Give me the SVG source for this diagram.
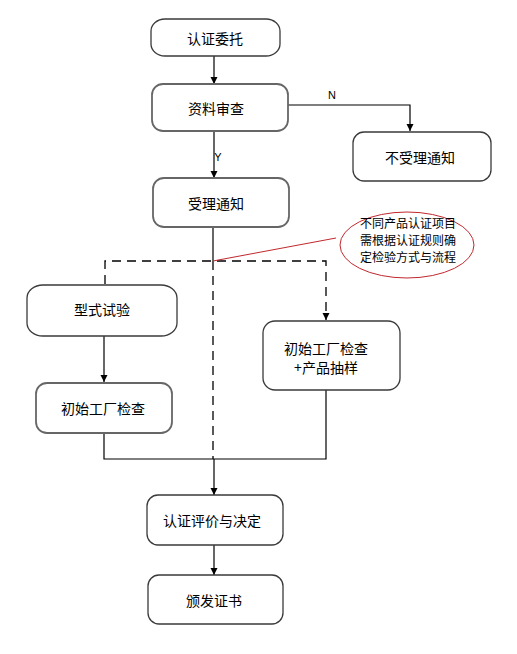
<svg xmlns="http://www.w3.org/2000/svg" width="517" height="654" viewBox="0 0 517 654">
<defs>
<style>
.box{fill:#fff;stroke:#3a3a3a;stroke-width:1.3}
.box2{fill:#fff;stroke:#666;stroke-width:1.8}
.t{font-family:"Noto Sans CJK SC","Liberation Sans",sans-serif;font-size:14px;fill:#000;text-anchor:middle;dominant-baseline:central}
.s{font-size:12px}
.ln{fill:none;stroke:#000;stroke-width:1.2}
.ds{fill:none;stroke:#000;stroke-width:1.3;stroke-dasharray:9,6}
</style>
<marker id="ah" viewBox="0 0 10 10" refX="10" refY="5" markerWidth="7" markerHeight="8" markerUnits="userSpaceOnUse" orient="auto">
<path d="M0,0 L10,5 L0,10 z" fill="#000"/>
</marker>
</defs>
<rect width="517" height="654" fill="#fff"/>
<g id="connectors">
<line class="ln" x1="214" y1="56" x2="214" y2="84" marker-end="url(#ah)"/>
<polyline class="ln" points="288,105 410,105 410,131" marker-end="url(#ah)"/>
<line class="ln" x1="214" y1="131" x2="214" y2="178" marker-end="url(#ah)"/>
<line class="ln" x1="213" y1="227" x2="213" y2="261"/>
<polyline class="ds" points="105,284 105,261 326,261 326,320" marker-end="url(#ah)"/>
<line class="ds" x1="213" y1="261" x2="213" y2="459"/>
<line class="ln" x1="104" y1="336" x2="104" y2="382" marker-end="url(#ah)"/>
<polyline class="ln" points="104,433 104,459 326,459 326,390"/>
<line class="ln" x1="214" y1="459" x2="214" y2="495" marker-end="url(#ah)"/>
<line class="ln" x1="214" y1="545" x2="214" y2="575" marker-end="url(#ah)"/>
<line x1="213" y1="261" x2="336" y2="238" stroke="#c0282e" stroke-width="1"/>
<text class="t" x="332" y="95" style="font-family:'Liberation Sans',sans-serif;font-size:11px">N</text>
<text class="t" x="218" y="157" style="font-family:'Liberation Sans',sans-serif;font-size:11px">Y</text>
</g>
<g id="n1"><rect class="box" x="151" y="19" width="129" height="37" rx="14" ry="12"/><text class="t" x="215" y="38">认证委托</text></g>
<g id="n2"><rect class="box2" x="152" y="84" width="136" height="47" rx="11"/><text class="t" x="216" y="108">资料审查</text></g>
<g id="n3"><rect class="box" x="353" y="132" width="138" height="49" rx="11"/><text class="t" x="420" y="157">不受理通知</text></g>
<g id="n4"><rect class="box2" x="153" y="178" width="136" height="49" rx="11"/><text class="t" x="216" y="203">受理通知</text></g>
<g id="note"><ellipse cx="407" cy="245" rx="67" ry="33" fill="#fff" stroke="#c0282e" stroke-width="1"/>
<text class="t s" x="408" y="222">不同产品认证项目</text>
<text class="t s" x="408" y="239">需根据认证规则确</text>
<text class="t s" x="408" y="256">定检验方式与流程</text></g>
<g id="n5"><rect class="box" x="27" y="285" width="150" height="51" rx="16" ry="13"/><text class="t" x="102" y="309">型式试验</text></g>
<g id="n6"><rect class="box2" x="36" y="383" width="136" height="50" rx="11"/><text class="t" x="103" y="408">初始工厂检查</text></g>
<g id="n7"><rect class="box" x="263" y="321" width="137" height="69" rx="12"/><text class="t" x="326" y="348">初始工厂检查</text><text class="t" x="326" y="367">+产品抽样</text></g>
<g id="n8"><rect class="box" x="147" y="495" width="136" height="50" rx="11"/><text class="t" x="212" y="520">认证评价与决定</text></g>
<g id="n9"><rect class="box" x="148" y="575" width="135" height="49" rx="11"/><text class="t" x="214" y="600">颁发证书</text></g>
</svg>
